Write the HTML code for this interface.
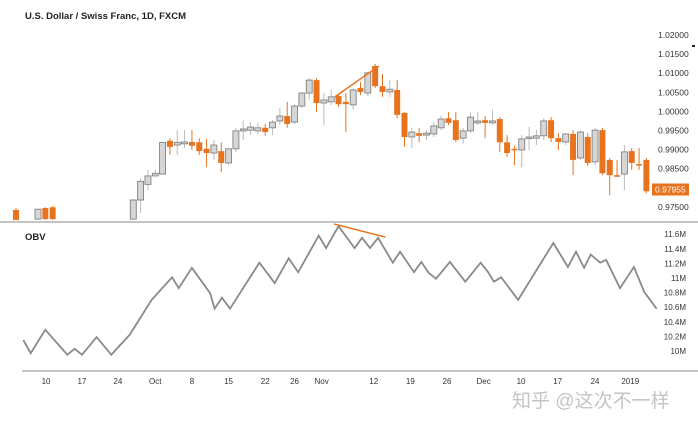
<!DOCTYPE html>
<html><head><meta charset="utf-8">
<style>
html,body{margin:0;padding:0;background:#fff;}
body{width:698px;height:427px;overflow:hidden;font-family:"Liberation Sans","Noto Sans CJK SC",sans-serif;}
svg text{font-family:"Liberation Sans","Noto Sans CJK SC",sans-serif;}
</style></head>
<body>
<svg id="chart" width="698" height="427" xmlns="http://www.w3.org/2000/svg">
<text x="25" y="19" font-size="9.5" font-weight="bold" fill="#222">U.S. Dollar / Swiss Franc, 1D, FXCM</text>
<text x="25" y="240" font-size="9.5" font-weight="bold" fill="#222">OBV</text>
<line x1="0" y1="222" x2="698" y2="222" stroke="#888" stroke-width="1"/>
<line x1="22" y1="371" x2="698" y2="371" stroke="#888" stroke-width="1"/>
<rect x="692" y="45" width="3" height="2" fill="#222"/>
<g id="price-pane"></g>
<g id="obv-pane"></g>
<g id="x-axis"></g>
<text x="512" y="407" font-size="19" fill="#c4c4c4">知乎 @这次不一样</text>
</svg>
<script>
const candleIdx=[0,3,4,5,16,17,18,19,20,21,22,23,24,25,26,27,28,29,30,31,32,33,34,35,36,37,38,39,40,41,42,43,44,45,46,47,48,49,50,51,52,53,54,55,56,57,58,59,60,61,62,63,64,65,66,67,68,69,70,71,72,73,74,75,76,77,78,79,80,81,82,83,84,85,86];
const opens=[.9742,.9718,.9747,.9749,.9718,.9768,.9809,.9831,.9836,.9923,.9912,.9915,.9920,.9919,.9902,.9891,.9896,.9865,.9902,.9949,.9951,.9949,.9957,.9957,.9975,.9988,.9972,1.0014,1.0048,1.0082,1.0022,1.0025,1.0040,1.0025,1.0017,1.0061,1.0048,1.0119,1.0066,1.0051,1.0056,.9996,.9933,.9943,.9938,.9941,.9957,.9982,.9977,.9930,.9949,.9970,.9977,.9970,.9980,.9919,.9902,.9899,.9930,.9930,.9936,.9977,.9930,.9920,.9941,.9878,.9933,.9868,.9951,.9873,.9833,.9836,.9896,.9862,.9873];
const highs=[.9747,.9744,.9749,.9752,.9771,.9825,.9847,.9847,.9919,.9930,.9951,.9951,.9951,.9930,.9928,.9925,.9919,.9904,.9957,.9977,.9972,.9970,.9967,.9977,1.0009,1.0025,1.0019,1.0051,1.0087,1.0087,1.0048,1.0056,1.0043,1.0048,1.0061,1.0077,1.0103,1.0124,1.0098,1.0082,1.0082,.9998,.9957,.9957,.9951,.9972,.9988,.9998,.9998,.9957,.9998,.9998,.9988,1.0004,.9985,.9938,.9910,.9938,.9959,.9951,.9982,.9985,.9943,.9943,.9951,.9951,.9943,.9957,.9957,.9878,.9873,.9912,.9904,.9904,.9878];
const lows=[.9716,.9716,.9716,.9716,.9716,.9734,.9794,.9831,.9836,.9886,.9886,.9904,.9899,.9886,.9854,.9873,.9841,.9859,.9894,.9925,.9938,.9941,.9936,.9938,.9964,.9957,.9967,1.0009,1.0030,.9998,.9964,1.0017,1.0012,.9946,1.0004,1.0043,1.0040,1.0061,1.0038,1.0038,.9982,.9907,.9904,.9920,.9925,.9933,.9951,.9964,.9919,.9915,.9943,.9964,.9930,.9964,.9894,.9881,.9859,.9854,.9899,.9912,.9925,.9919,.9899,.9912,.9833,.9873,.9857,.9859,.9833,.9781,.9828,.9794,.9847,.9847,.9786];
const closes=[.9716,.9744,.9718,.9718,.9768,.9817,.9831,.9838,.9919,.9907,.9919,.9920,.9910,.9896,.9891,.9912,.9865,.9902,.9949,.9954,.9959,.9957,.9946,.9972,.9988,.9967,1.0014,1.0048,1.0082,1.0022,1.0030,1.0038,1.0019,1.0019,1.0056,1.0051,1.0101,1.0066,1.0051,1.0058,.9991,.9933,.9946,.9936,.9943,.9962,.9980,.9970,.9925,.9949,.9985,.9975,.9970,.9975,.9919,.9891,.9899,.9928,.9933,.9936,.9975,.9930,.9920,.9941,.9873,.9946,.9865,.9951,.9838,.9833,.9831,.9894,.9865,.9859,.9791];
const priceTicks=[1.02,1.015,1.01,1.005,1.0,0.995,0.99,0.985,0.975];
const priceTickLabels=["1.02000","1.01500","1.01000","1.00500","1.00000","0.99500","0.99000","0.98500","0.97500"];
const lastPrice=0.97955;
const obvIdx=[1,2,4,7,8,9,11,13,15.5,18.5,21.3,22.2,24,26.5,27.1,28.1,29.2,33.2,35.3,37.2,38.5,41.3,42.3,44,46.2,47.2,48.3,49.4,51.4,52.4,54.3,55.3,56.3,57.3,59.2,61.3,63.4,64.4,65.2,66.2,68.5,73.3,75.3,76.4,77.5,78.4,79.7,80.5,82.4,84.3,85.7,87.4];
const obvVals=[10.15,9.97,10.29,9.95,10.03,9.95,10.19,9.95,10.22,10.70,11.01,10.86,11.14,10.79,10.58,10.73,10.58,11.21,10.93,11.27,11.08,11.58,11.41,11.71,11.41,11.55,11.41,11.55,11.21,11.36,11.08,11.22,11.07,10.99,11.22,10.95,11.21,11.08,10.95,11.01,10.70,11.48,11.15,11.36,11.14,11.32,11.21,11.25,10.86,11.15,10.81,10.58];
const obvTicks=[11.6,11.4,11.2,11.0,10.8,10.6,10.4,10.2,10.0];
const obvTickLabels=["11.6M","11.4M","11.2M","11M","10.8M","10.6M","10.4M","10.2M","10M"];
const xTickIdx=[4.1,9,13.9,19,24,29,34,38,41.7,48.8,53.8,58.8,63.8,68.9,73.9,79,83.8];
const xTickLabels=["10","17","24","Oct","8","15","22","26","Nov","12","19","26","Dec","10","17","24","2019"];
const priceTrend=[[43.5,1.0038],[49.5,1.0119]];
const obvTrend=[[43.4,11.74],[50.4,11.56]];

const NS="http://www.w3.org/2000/svg";
const xS=i=>16+i*7.33;
const yP=p=>35+(1.02-p)/0.005*19.1;
const yO=v=>351-(v-10)*73;
const ORANGE="#e8731e",GREY="#d6d6d6",GREYS="#777";
function mk(tag,attrs,parent){const e=document.createElementNS(NS,tag);for(const k in attrs)e.setAttribute(k,attrs[k]);parent.appendChild(e);return e;}
const pp=document.getElementById('price-pane'),op=document.getElementById('obv-pane'),xa=document.getElementById('x-axis');
// clip price pane
const defs=mk('defs',{},document.getElementById('chart'));
const cp=mk('clipPath',{id:'pclip'},defs);mk('rect',{x:0,y:25,width:698,height:196},cp);
pp.setAttribute('clip-path','url(#pclip)');
candleIdx.forEach((ix,k)=>{
  const o=opens[k],h=highs[k],l=lows[k],c=closes[k],x=xS(ix),down=c<o;
  const w=mk('line',{x1:x,x2:x,y1:yP(h),y2:yP(l),stroke:down?ORANGE:"#bbb","stroke-width":1},pp);
  
  
  const top=yP(Math.max(o,c)),bh=Math.max(1.5,Math.abs(yP(o)-yP(c)));
  const r=mk('rect',{x:x-3,y:top,width:6,height:bh,fill:down?ORANGE:GREY,stroke:down?ORANGE:GREYS,"stroke-width":down?0:0.8},pp);
  
  
});
priceTicks.forEach((p,k)=>{
  const t=mk('text',{x:658,y:yP(p)+3,"font-size":8.5,fill:"#333"},pp.parentNode);
  t.textContent=priceTickLabels[k];
  
  
});
const lb=mk('rect',{x:652,y:yP(lastPrice)-6,width:37,height:12,fill:ORANGE},document.getElementById('chart'));


const lt=mk('text',{x:655,y:yP(lastPrice)+3,"font-size":8.5,fill:"#fff"},document.getElementById('chart'));
lt.textContent=lastPrice.toFixed(5);


const pt=mk('line',{x1:xS(priceTrend[0][0]),y1:yP(priceTrend[0][1]),x2:xS(priceTrend[1][0]),y2:yP(priceTrend[1][1]),stroke:ORANGE,"stroke-width":1.5},pp);


// OBV
const d=obvIdx.map((ix,k)=>(k?'L':'M')+xS(ix).toFixed(1)+','+yO(obvVals[k]).toFixed(1)).join(' ');
const ol=mk('path',{d:d,fill:'none',stroke:'#8a8a8a',"stroke-width":1.8,"stroke-linejoin":"miter"},op);


const ot=mk('line',{x1:xS(obvTrend[0][0]),y1:yO(obvTrend[0][1]),x2:xS(obvTrend[1][0]),y2:yO(obvTrend[1][1]),stroke:ORANGE,"stroke-width":1.5},op);


obvTicks.forEach((v,k)=>{
  const t=mk('text',{x:686,y:yO(v)+3,"font-size":8,fill:"#333","text-anchor":"end"},op);
  t.textContent=obvTickLabels[k];
  
  
});
xTickIdx.forEach((ix,k)=>{
  const t=mk('text',{x:xS(ix),y:384,"font-size":8,fill:"#333","text-anchor":"middle"},xa);
  t.textContent=xTickLabels[k];
  
  
});
</script>
</body></html>
